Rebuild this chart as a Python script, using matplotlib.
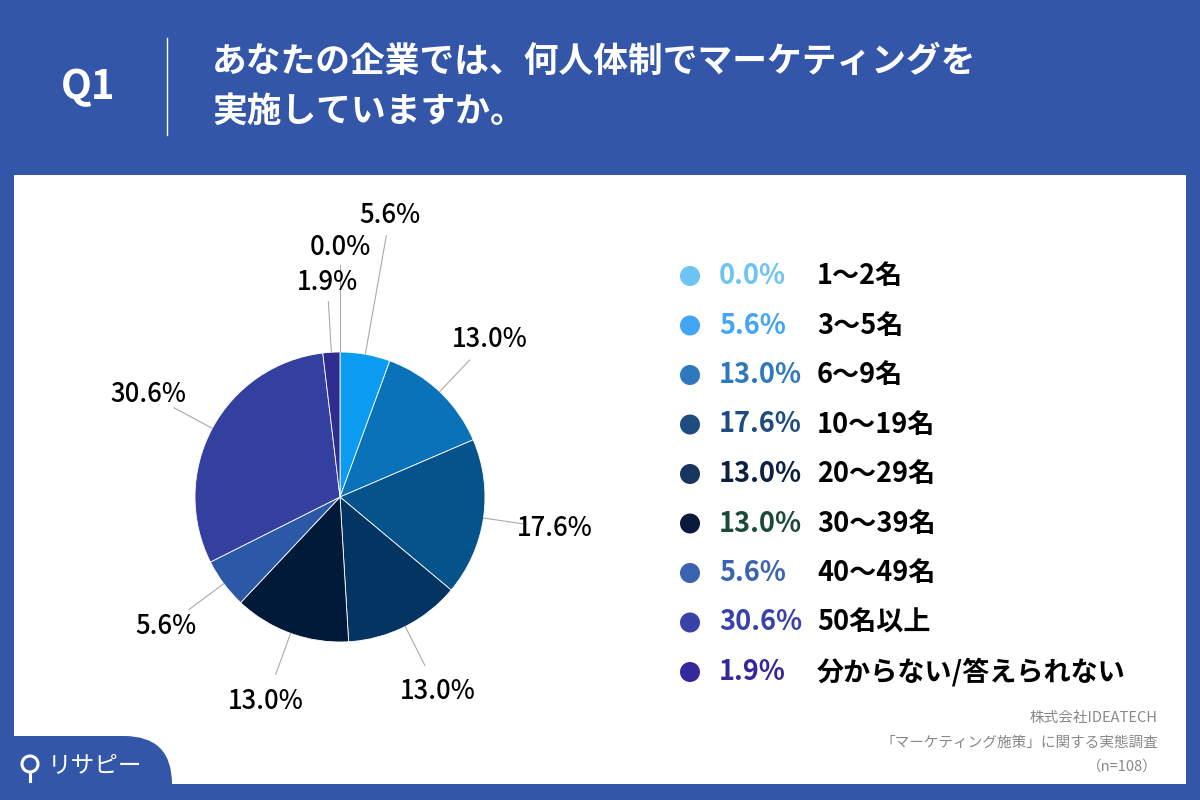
import numpy as np
import matplotlib.pyplot as plt
from matplotlib.patches import Rectangle, FancyBboxPatch, Circle

plt.rcParams['font.family'] = ['Noto Sans CJK JP', 'DejaVu Sans']

# data
categories = ['1〜2名', '3〜5名', '6〜9名', '10〜19名', '20〜29名',
              '30〜39名', '40〜49名', '50名以上', '分からない/答えられない']
values = [0.0, 5.6, 13.0, 17.6, 13.0, 13.0, 5.6, 30.6, 1.9]

title_lines = ['あなたの企業では、何人体制でマーケティングを', '実施していますか。']
source_lines = ['株式会社IDEATECH', '「マーケティング施策」に関する実態調査', '（n=108）']

# styling
pie_colors = ['#6ec3f5', '#0a9cf0', '#0a72b8', '#06528a', '#033462',
              '#021a3a', '#2b59a8', '#3340a0', '#2f2e90']
legend_dot = ['#6ec3f5', '#42a5f5', '#2e78bd', '#1e4c7f', '#17355e',
              '#0b1a3a', '#3b63b2', '#3942a8', '#35289a']
legend_txt = ['#6ec3f5', '#42a5f5', '#2e78bd', '#1e4c7f', '#0d2040',
              '#1b4a3a', '#3b63b2', '#3942a8', '#35289a']
label_r = [1.72, 1.97, 1.5, 1.5, 1.5, 1.5, 1.5, 1.5, 1.48]
line_end = [1.6, 1.83, 1.3, 1.3, 1.3, 1.3, 1.3, 1.3, 1.35]
bg = '#3356a8'

fig = plt.figure(figsize=(12, 8), dpi=100)
fig.patch.set_facecolor(bg)

# full-figure axes in pixel coordinates
base = fig.add_axes([0, 0, 1, 1])
base.set_xlim(0, 1200)
base.set_ylim(800, 0)
base.axis('off')

base.add_patch(Rectangle((14, 175), 1172, 609, facecolor='white', edgecolor='none'))
base.add_patch(FancyBboxPatch((-60, 736), 232, 120, boxstyle='round,pad=0,rounding_size=48',
                              facecolor=bg, edgecolor='none'))

base.text(88, 88, 'Q1', color='white', fontsize=29, fontweight='bold', ha='center', va='center')
base.plot([167, 167], [38, 135], color='white', lw=1)
for i, line in enumerate(title_lines):
    base.text(212, 61 + i * 50, line, color='white', fontsize=25, fontweight='bold',
              ha='left', va='center')

# logo
base.add_patch(Circle((30, 764), 8, facecolor='none', edgecolor='white', lw=2.2))
base.plot([30, 30], [772, 781], color='white', lw=2.2)
base.text(48, 766, 'リサピー', color='white', fontsize=17, ha='left', va='center')

# source
for i, line in enumerate(source_lines):
    base.text(1158, 718 + i * 24.5, line, color='#888888', fontsize=10.5, ha='right', va='center')

# legend
for i, (cat, v) in enumerate(zip(categories, values)):
    y = 276 + i * 49.5
    base.add_patch(Circle((690, y), 10, facecolor=legend_dot[i], edgecolor='none'))
    base.text(719, y, f'{v:.1f}%', color=legend_txt[i], fontsize=19.5, fontweight='bold',
              ha='left', va='center')
    base.text(817, y, cat, color='black', fontsize=19.5, fontweight='bold',
              ha='left', va='center')

# pie
cx, cy, R = 340, 497, 145
half = 300
ax = fig.add_axes([(cx - half) / 1200, (800 - cy - half) / 800, 2 * half / 1200, 2 * half / 800])
wedges, _ = ax.pie(values, colors=pie_colors, startangle=90, counterclock=False, radius=1,
                   wedgeprops=dict(edgecolor='white', linewidth=0.6))
lim = half / R
ax.set_xlim(-lim, lim)
ax.set_ylim(-lim, lim)
ax.set_aspect('equal')
ax.axis('off')

for i, w in enumerate(wedges):
    ang = np.deg2rad((w.theta1 + w.theta2) / 2)
    ca, sa = np.cos(ang), np.sin(ang)
    ax.plot([1.0 * ca, line_end[i] * ca], [1.0 * sa, line_end[i] * sa],
            color='#aaaaaa', lw=0.8, clip_on=False)
    ax.text(label_r[i] * ca, label_r[i] * sa, f'{values[i]:.1f}%', fontsize=18.5,
            fontweight='medium', ha='center', va='center', color='black', clip_on=False)

fig.savefig('out.png', dpi=100, facecolor=fig.get_facecolor())
